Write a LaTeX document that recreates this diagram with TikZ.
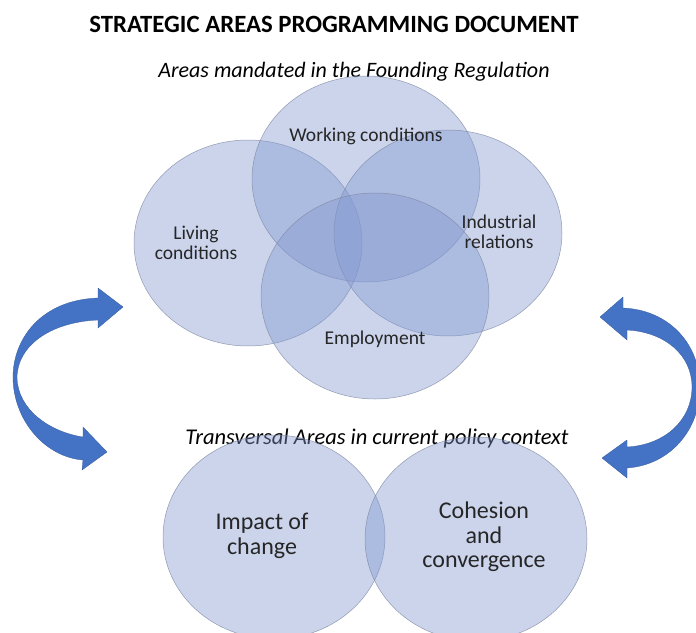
\documentclass[tikz,border=0pt]{standalone}
\usepackage{fontspec}
\setmainfont{Carlito}
\usepackage{tikz}
\usetikzlibrary{shapes.geometric, positioning}

\definecolor{areablue}{RGB}{130,152,208}
\definecolor{areaedge}{RGB}{125,135,160}
\definecolor{arrowblue}{RGB}{68,114,196}

\begin{document}
\begin{tikzpicture}[
      x=1pt, y=-1pt,
      area/.style={
          ellipse,
          draw=areaedge,
          draw opacity=0.8,
          line width=0.5pt,
          fill=areablue,
          fill opacity=0.42,
          inner sep=0pt,
          minimum width=228pt,
          minimum height=206pt
        },
      smallarea/.style={
          area,
          minimum width=222pt,
          minimum height=204pt
        },
      lbl/.style={
          align=center,
          font=\fontsize{19.5}{20}\selectfont,
          text=black!85
        },
      biglbl/.style={
          align=center,
          font=\fontsize{24}{24.5}\selectfont,
          text=black!85
        },
      heading/.style={
          font=\fontsize{22}{24}\selectfont\itshape
        },
      bigarrow/.style={
          fill=arrowblue,
          draw=arrowblue!80!black,
          line width=0.3pt
        }
    ]
    \useasboundingbox (0,0) rectangle (696,632);

    % Title
    \node[font=\fontsize{24.8}{28}\selectfont\bfseries] (title) at (334,24) {STRATEGIC AREAS PROGRAMMING DOCUMENT};
    \node[heading] (mandated) at (354,72) {Areas mandated in the Founding Regulation};

    % Mandated areas
    \node[area] (living) at (248,243) {};
    \node[area] (work) at (366,179) {};
    \node[area] (industrial) at (448,233) {};
    \node[area] (employ) at (375,296) {};

    \node[lbl] (worktxt) at (366,136) {Working conditions};
    \node[lbl] (livingtxt) at (196,243) {Living\\conditions};
    \node[lbl] (industrialtxt) at (499,232) {Industrial\\relations};
    \node[lbl] (employtxt) at (375,339) {Employment};

    % Transversal areas
    \node[heading, font=\fontsize{22.5}{24}\selectfont\itshape] (transversal) at (377,438) {Transversal Areas in current policy context};
    \node[smallarea] (impact) at (274,537) {};
    \node[smallarea] (cohesion) at (476,539) {};

    \node[biglbl] (impacttxt) at (262,536) {Impact of\\change};
    \node[biglbl] (cohesiontxt) at (484,537) {Cohesion\\and\\convergence};

    % Arrows
    \fill[bigarrow] (123,307) -- (98,288) -- (98,298)
        .. controls (40,300) and (13,340) .. (13,377)
        .. controls (13,420) and (45,457) .. (83,460)
        -- (82,470) -- (107,452) -- (83,427) -- (83,437)
        .. controls (50,432) and (18,410) .. (17,378)
        .. controls (17,346) and (50,322) .. (98,320)
        -- (98,328) -- cycle;
    \fill[bigarrow] (600,317) -- (623,297) -- (623,308)
        .. controls (670,310) and (700,345) .. (700,387)
        .. controls (700,430) and (670,465) .. (627,468)
        -- (627,478) -- (602,458) -- (627,440) -- (627,447)
        .. controls (665,445) and (692,420) .. (692,387)
        .. controls (692,355) and (665,332) .. (627,330)
        -- (627,340) -- cycle;

  \end{tikzpicture}
\end{document}
